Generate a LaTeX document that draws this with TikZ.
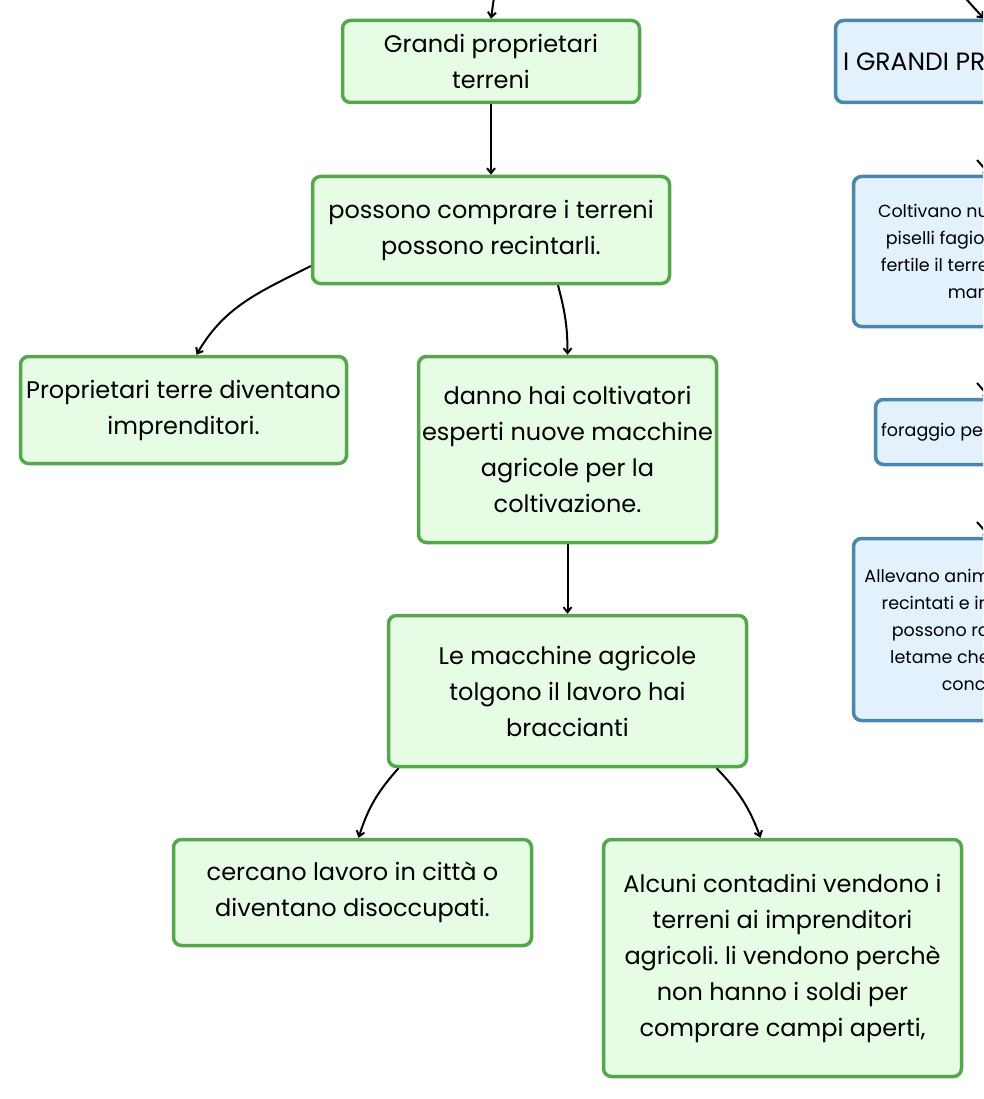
\documentclass[tikz,border=0pt]{standalone}
\usepackage{fontspec}
\setmainfont{Poppins}
\usetikzlibrary{arrows.meta}
\frenchspacing

\definecolor{boxgreen}{RGB}{86,166,76}
\definecolor{fillgreen}{RGB}{230,252,228}
\definecolor{boxblue}{RGB}{74,135,173}
\definecolor{fillblue}{RGB}{227,241,252}

\tikzset{
  greenbox/.style={draw=boxgreen, fill=fillgreen, line width=3.5pt, rounded corners=8pt,
    align=center, inner sep=0pt, font=\fontsize{24}{36}\selectfont},
  bluebox/.style={draw=boxblue, fill=fillblue, line width=3.5pt, rounded corners=8pt, inner sep=0pt},
  bluetext/.style={align=right, inner sep=0pt, font=\fontsize{17.5}{27}\selectfont},
  link/.style={-{Straight Barb[length=5pt,width=8pt]}, line width=2pt}
}

\begin{document}
\begin{tikzpicture}[x=1pt, y=-1pt]
\useasboundingbox (0,0) rectangle (983,1099);
\clip (0,0) rectangle (983,1099);

% left tree
\node (grandi) [greenbox, minimum width=297pt, minimum height=82pt] at (491,61.5) {Grandi proprietari\\terreni};
\node (possono) [greenbox, minimum width=357pt, minimum height=107pt, below of=grandi, node distance=168.5pt] {possono comprare i terreni\\possono recintarli.};
\node (proprietari) [greenbox, minimum width=326pt, minimum height=107pt] at (183.5,410) {Proprietari terre diventano\\imprenditori.};
\node (danno) [greenbox, minimum width=298pt, minimum height=186pt] at (567.5,449.5) {danno hai coltivatori\\esperti nuove macchine\\agricole per la\\coltivazione.};
\node (macchine) [greenbox, minimum width=358pt, minimum height=151pt, below of=danno, node distance=241.5pt] {Le macchine agricole\\tolgono il lavoro hai\\braccianti};
\node (cercano) [greenbox, minimum width=358pt, minimum height=106pt] at (352.5,892.5) {cercano lavoro in citt\`a o\\diventano disoccupati.};
\node (alcuni) [greenbox, minimum width=358pt, minimum height=237pt] at (782.5,958) {Alcuni contadini vendono i\\terreni ai imprenditori\\agricoli. li vendono perch\`e\\non hanno i soldi per\\comprare campi aperti,};

% right column, cut by the edge
\node (grandiP) [bluebox, minimum width=309pt, minimum height=82pt] at (990,61.5) {};
\node (grandiPtxt) [inner sep=0pt, anchor=west, font=\fontsize{25}{36}\selectfont] at (843,62) {I GRANDI PR};
\node (coltivano) [bluebox, minimum width=273pt, minimum height=150pt] at (990,251.5) {};
\node (coltivanotxt) [bluetext, anchor=east] at (989,251.5) {Coltivano nu\\piselli fagiol\\fertile il terre\\man};
\node (foraggio) [bluebox, minimum width=229pt, minimum height=65pt] at (990,432) {};
\node (foraggiotxt) [bluetext, anchor=west] at (881,432) {foraggio pe};
\node (allevano) [bluebox, minimum width=273pt, minimum height=182pt] at (990,629.5) {};
\node (allevanotxt) [bluetext, anchor=east] at (990,629.5) {Allevano anim\\recintati e in\\possono ra\\letame che\\conci};

% links coming from outside
\coordinate (fromtop) at (495,-10);
\coordinate (fromtopright) at (958,-10);
\coordinate (tocolt) at (977,160);
\coordinate (toforag) at (977,383);
\coordinate (toallev) at (977,522);

\draw[link] (fromtop) -- (grandi.north);
\draw[link] (fromtopright) -- ([xshift=-6pt]grandiP.north);
\draw[link] (tocolt) -- (coltivano.north);
\draw[link] (toforag) -- (foraggio.north);
\draw[link] (toallev) -- (allevano.north);

\draw[link] (grandi) -- (possono);
\draw[link] ([yshift=-36pt]possono.west) to[out=207, in=60] ([xshift=13pt]proprietari.north);
\draw[link] ([xshift=67pt]possono.south) to[out=-75, in=90] (danno.north);
\draw[link] (danno) -- (macchine);
\draw[link] ([xshift=-169pt]macchine.south) to[bend right=12] ([xshift=6pt]cercano.north);
\draw[link] ([xshift=149pt]macchine.south) to[bend left=12] ([xshift=-22pt]alcuni.north);
\end{tikzpicture}
\end{document}
